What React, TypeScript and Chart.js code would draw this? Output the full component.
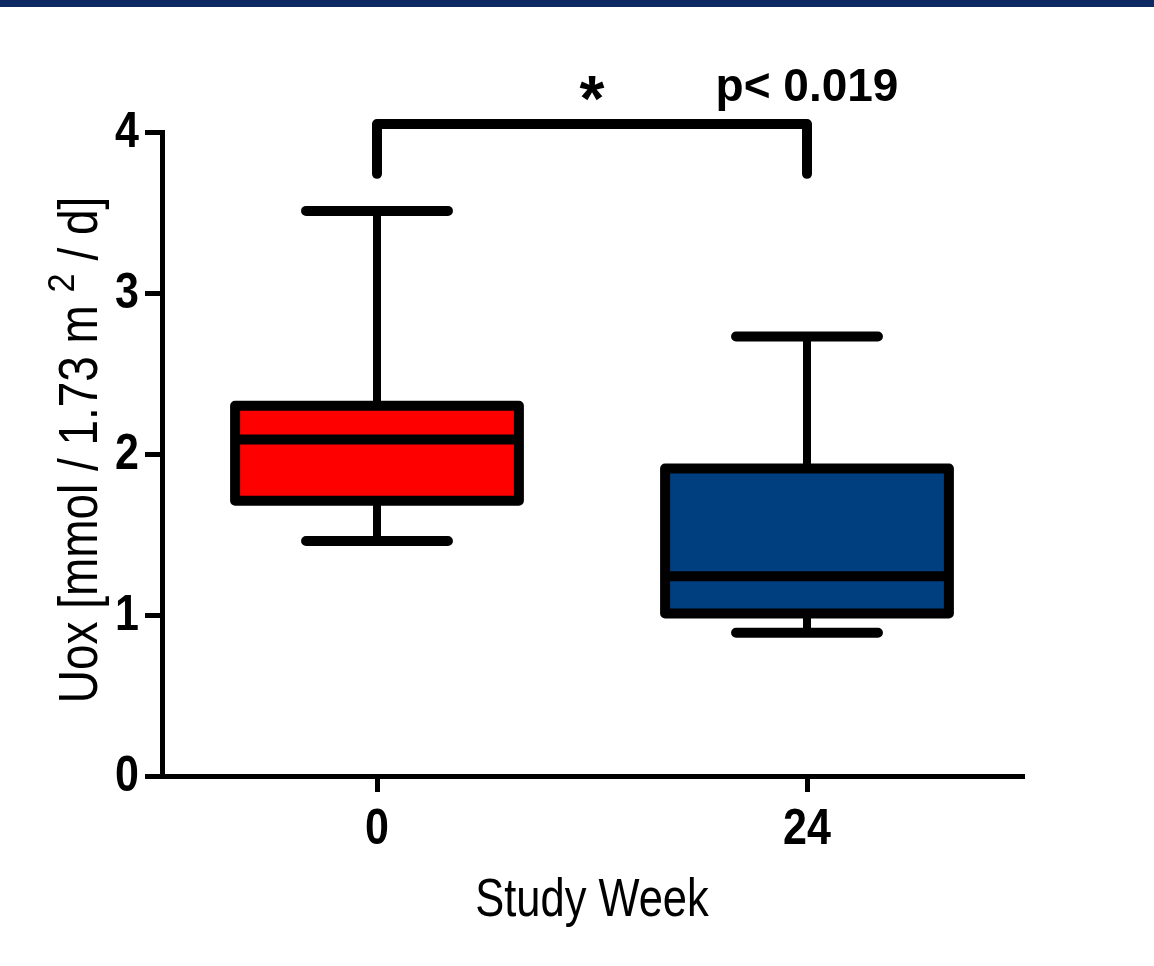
import React, { useEffect, useRef } from "react";
import { Chart, registerables } from "chart.js";

Chart.register(...registerables);

const categories = ["0", "24"];
const whiskerMin = [1.46, 0.89];
const q1 = [1.71, 1.01];
const median = [2.09, 1.24];
const q3 = [2.3, 1.91];
const whiskerMax = [3.51, 2.73];
const boxColors = ["#FF0000", "#003F7F"];
const yTickValues = [0, 1, 2, 3, 4];
const bracketRange = [3.74, 4.05];
const starLevel = 4.3;
const pLevel = 4.3;
const starText = "*";
const pText = "p< 0.019";
const yTitleParts = ["Uox [mmol / 1.73 m ", "2", " / d]"];
const xTitle = "Study Week";

const FAMILY = "'Liberation Sans', Arial, Helvetica, sans-serif";
const CONDENSE = 0.82;

function drawCondensed(
  ctx: CanvasRenderingContext2D,
  text: string,
  x: number,
  y: number,
  font: string,
  align: CanvasTextAlign,
  baseline: CanvasTextBaseline,
  sx: number
) {
  ctx.save();
  ctx.translate(x, y);
  ctx.scale(sx, 1);
  ctx.font = font;
  ctx.textAlign = align;
  ctx.textBaseline = baseline;
  ctx.fillText(text, 0, 0);
  ctx.restore();
}

const boxPlugin = {
  id: "boxPlugin",
  beforeDraw(chart: any) {
    const ctx = chart.ctx;
    ctx.save();
    ctx.fillStyle = "#ffffff";
    ctx.fillRect(0, 0, chart.width, chart.height);
    ctx.fillStyle = "#0E2A63";
    ctx.fillRect(0, 0, chart.width, 7);
    ctx.restore();
  },
  beforeDatasetsDraw(chart: any) {
    const ctx = chart.ctx;
    const y = chart.scales.y;
    const meta = chart.getDatasetMeta(0);
    ctx.save();
    ctx.strokeStyle = "#000";
    meta.data.forEach((bar: any, i: number) => {
      const { x, width } = bar.getProps(["x", "width"], true);
      const half = width / 4;
      ctx.lineCap = "butt";
      ctx.lineWidth = 8;
      ctx.beginPath();
      ctx.moveTo(x, y.getPixelForValue(q3[i]));
      ctx.lineTo(x, y.getPixelForValue(whiskerMax[i]));
      ctx.moveTo(x, y.getPixelForValue(q1[i]));
      ctx.lineTo(x, y.getPixelForValue(whiskerMin[i]));
      ctx.stroke();
      ctx.lineCap = "round";
      ctx.lineWidth = 10;
      ctx.beginPath();
      ctx.moveTo(x - half, y.getPixelForValue(whiskerMax[i]));
      ctx.lineTo(x + half, y.getPixelForValue(whiskerMax[i]));
      ctx.moveTo(x - half, y.getPixelForValue(whiskerMin[i]));
      ctx.lineTo(x + half, y.getPixelForValue(whiskerMin[i]));
      ctx.stroke();
    });
    ctx.restore();
  },
  afterDatasetsDraw(chart: any) {
    const ctx = chart.ctx;
    const y = chart.scales.y;
    const meta = chart.getDatasetMeta(0);
    ctx.save();
    ctx.strokeStyle = "#000";
    meta.data.forEach((bar: any, i: number) => {
      const { x, width } = bar.getProps(["x", "width"], true);
      const top = y.getPixelForValue(q3[i]);
      const bot = y.getPixelForValue(q1[i]);
      ctx.lineJoin = "round";
      ctx.lineWidth = 10;
      ctx.strokeRect(x - width / 2, top, width, bot - top);
      ctx.lineCap = "butt";
      ctx.lineWidth = 10;
      ctx.beginPath();
      const m = y.getPixelForValue(median[i]);
      ctx.moveTo(x - width / 2, m);
      ctx.lineTo(x + width / 2, m);
      ctx.stroke();
    });
    ctx.restore();
  },
  afterDraw(chart: any) {
    const ctx = chart.ctx;
    const xs = chart.scales.x;
    const y = chart.scales.y;
    const area = chart.chartArea;
    const x0 = xs.getPixelForValue(0);
    const x1 = xs.getPixelForValue(1);
    const yb = y.getPixelForValue(bracketRange[0]);
    const yt = y.getPixelForValue(bracketRange[1]);
    ctx.save();
    ctx.fillStyle = "#000";

    // tick labels (condensed bold)
    const tickFont = `bold 50px ${FAMILY}`;
    yTickValues.forEach((v) => {
      drawCondensed(ctx, String(v), area.left - 23, y.getPixelForValue(v) + 1, tickFont, "right", "middle", 0.86);
    });
    categories.forEach((c, i) => {
      drawCondensed(ctx, c, xs.getPixelForValue(i), area.bottom + 29, tickFont, "center", "top", 0.86);
    });

    // significance bracket
    ctx.strokeStyle = "#000";
    ctx.lineWidth = 10;
    ctx.lineCap = "round";
    ctx.lineJoin = "round";
    ctx.beginPath();
    ctx.moveTo(x0, yb);
    ctx.lineTo(x0, yt);
    ctx.lineTo(x1, yt);
    ctx.lineTo(x1, yb);
    ctx.stroke();

    ctx.textAlign = "center";
    ctx.textBaseline = "alphabetic";
    ctx.font = `bold 64px ${FAMILY}`;
    ctx.fillText(starText, (x0 + x1) / 2, y.getPixelForValue(starLevel) + 37);
    ctx.font = `bold 46px ${FAMILY}`;
    ctx.fillText(pText, x1, y.getPixelForValue(pLevel) + 17);

    // x title
    drawCondensed(ctx, xTitle, (area.left + area.right) / 2, 916, `53px ${FAMILY}`, "center", "alphabetic", CONDENSE);

    // y title with superscript
    const mainFont = `56px ${FAMILY}`;
    const supFont = `36px ${FAMILY}`;
    const supScale = 0.95;
    ctx.font = mainFont;
    const w0 = ctx.measureText(yTitleParts[0]).width * CONDENSE;
    const w2 = ctx.measureText(yTitleParts[2]).width * CONDENSE;
    ctx.font = supFont;
    const w1 = ctx.measureText(yTitleParts[1]).width * supScale;
    const total = w0 + w1 + w2;
    ctx.translate(97, (area.top + area.bottom) / 2 - 4);
    ctx.rotate(-Math.PI / 2);
    let pos = -total / 2;
    drawCondensed(ctx, yTitleParts[0], pos, 0, mainFont, "left", "alphabetic", CONDENSE);
    pos += w0;
    drawCondensed(ctx, yTitleParts[1], pos, -23, supFont, "left", "alphabetic", supScale);
    pos += w1;
    drawCondensed(ctx, yTitleParts[2], pos, 0, mainFont, "left", "alphabetic", CONDENSE);
    ctx.restore();
  },
};

export default function App() {
  const ref = useRef<HTMLCanvasElement>(null);
  useEffect(() => {
    document.body.style.margin = "0";
    const canvas = ref.current!;
    const chart = new Chart(canvas, {
      type: "bar",
      data: {
        labels: categories,
        datasets: [
          {
            data: categories.map((_, i) => [q1[i], q3[i]]),
            backgroundColor: boxColors,
            borderWidth: 0,
            barPercentage: 0.66,
            categoryPercentage: 1,
          },
        ],
      },
      options: {
        animation: false,
        responsive: false,
        devicePixelRatio: 1,
        layout: { padding: { top: 132, right: 132, left: 0, bottom: 0 } },
        plugins: {
          legend: { display: false },
          tooltip: { enabled: false },
        },
        scales: {
          x: {
            type: "category",
            offset: true,
            grid: {
              offset: false,
              drawOnChartArea: false,
              drawTicks: true,
              tickLength: 16,
              lineWidth: 5,
              color: "#000",
            },
            border: { display: true, color: "#000", width: 5 },
            ticks: { display: false },
            afterFit: (scale: any) => {
              scale.height = 190;
            },
          },
          y: {
            min: 0,
            max: 4,
            grid: {
              drawOnChartArea: false,
              drawTicks: true,
              tickLength: 17,
              lineWidth: 5,
              color: "#000",
            },
            border: { display: true, color: "#000", width: 5 },
            ticks: { display: false, stepSize: 1 },
            afterFit: (scale: any) => {
              scale.width = 162;
            },
          },
        },
      },
      plugins: [boxPlugin],
    });
    return () => chart.destroy();
  }, []);
  return (
    <canvas
      ref={ref}
      width={1154}
      height={966}
      style={{ display: "block", width: 1154, height: 966 }}
    />
  );
}
